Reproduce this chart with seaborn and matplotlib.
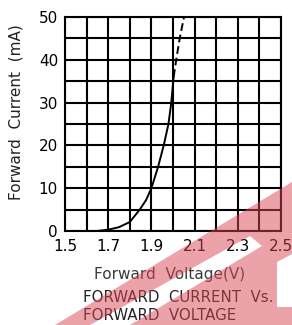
import numpy as np
import pandas as pd
import matplotlib
matplotlib.use("Agg")
import matplotlib.pyplot as plt
import seaborn as sns
from matplotlib.path import Path
from matplotlib.patches import PathPatch

# curve
voltage_solid = [1.646, 1.70, 1.75, 1.80, 1.846, 1.875, 1.90, 1.931, 1.957, 1.979, 1.992, 2.003]
current_solid = [0.0, 0.3, 0.9, 2.1, 5.0, 7.2, 10.0, 15.0, 20.0, 25.0, 30.0, 36.0]
voltage_dashed = [2.003, 2.015, 2.031, 2.051]
current_dashed = [36.0, 40.0, 45.0, 50.0]

x_ticks = [1.5, 1.7, 1.9, 2.1, 2.3, 2.5]
y_ticks = [0, 10, 20, 30, 40, 50]

solid = pd.DataFrame({"V": voltage_solid, "I": current_solid})
dashed = pd.DataFrame({"V": voltage_dashed, "I": current_dashed})

sns.set_theme(style="white")
plt.rcParams["font.family"] = ["DejaVu Sans"]

W, H = 292, 325
fig = plt.figure(figsize=(W / 100, H / 100), dpi=100)
ax = fig.add_axes([65 / W, 1 - 231 / H, 216 / W, 214 / H])

sns.lineplot(data=solid, x="V", y="I", ax=ax, color="black", lw=1.4, sort=False)
sns.lineplot(data=dashed, x="V", y="I", ax=ax, color="black", lw=1.4, sort=False,
             linestyle=(0, (4, 2)))

# grid every 0.1 V / 5 mA, labels every other line
xgrid = np.round(np.arange(1.5, 2.51, 0.1), 1)
ygrid = np.arange(0, 51, 5)
ax.set_xlim(1.5, 2.5)
ax.set_ylim(0, 50)
ax.set_xticks(xgrid)
ax.set_yticks(ygrid)
ax.set_xticklabels([f"{t:.1f}" if t in x_ticks else "" for t in xgrid])
ax.set_yticklabels([str(t) if t in y_ticks else "" for t in ygrid])
ax.grid(True, color="black", lw=1.5)
ax.tick_params(axis="both", length=0, labelsize=11, colors="black")
ax.tick_params(axis="x", pad=6)
ax.tick_params(axis="y", pad=5)
for s in ax.spines.values():
    s.set_color("black")
    s.set_linewidth(1.5)
ax.set_xlabel("")
ax.set_ylabel("Forward  Current  (mA)", fontsize=11, color="#222222")
ax.yaxis.set_label_coords(-0.19, 0.556)

fig.text(94 / W, 1 - 275 / H, "Forward  Voltage(V)", fontsize=11, color="#3a3a3a",
         ha="left", va="center")
fig.text(83 / W, 1 - 297 / H, "FORWARD  CURRENT  Vs.", fontsize=10.8, color="#222222",
         ha="left", va="center")
fig.text(83 / W, 1 - 315 / H, "FORWARD  VOLTAGE", fontsize=10.8, color="#222222",
         ha="left", va="center")

# red watermark in the lower right corner (pixel coordinates, y downwards)
def px(points):
    return [(x / W, 1 - y / H) for x, y in points]

outer = [(55, 325), (292, 182), (292, 325)]
holes = [
    [(90, 325), (130, 325), (262, 246), (250, 236)],
    [(277, 262), (292, 254), (292, 307), (277, 307)],
]

verts, codes = [], []
for ring, ccw in [(outer, True)] + [(h, False) for h in holes]:
    pts = px(ring)
    area = sum(x0 * y1 - x1 * y0 for (x0, y0), (x1, y1) in zip(pts, pts[1:] + pts[:1]))
    if (area > 0) != ccw:
        pts = pts[::-1]
    verts += pts + [pts[0]]
    codes += [Path.MOVETO] + [Path.LINETO] * (len(pts) - 1) + [Path.CLOSEPOLY]

mark = PathPatch(Path(verts, codes), transform=fig.transFigure,
                 facecolor=(0.86, 0.28, 0.33), alpha=0.5, edgecolor="none", zorder=10)
fig.patches.append(mark)

fig.savefig("out.png", dpi=100)
